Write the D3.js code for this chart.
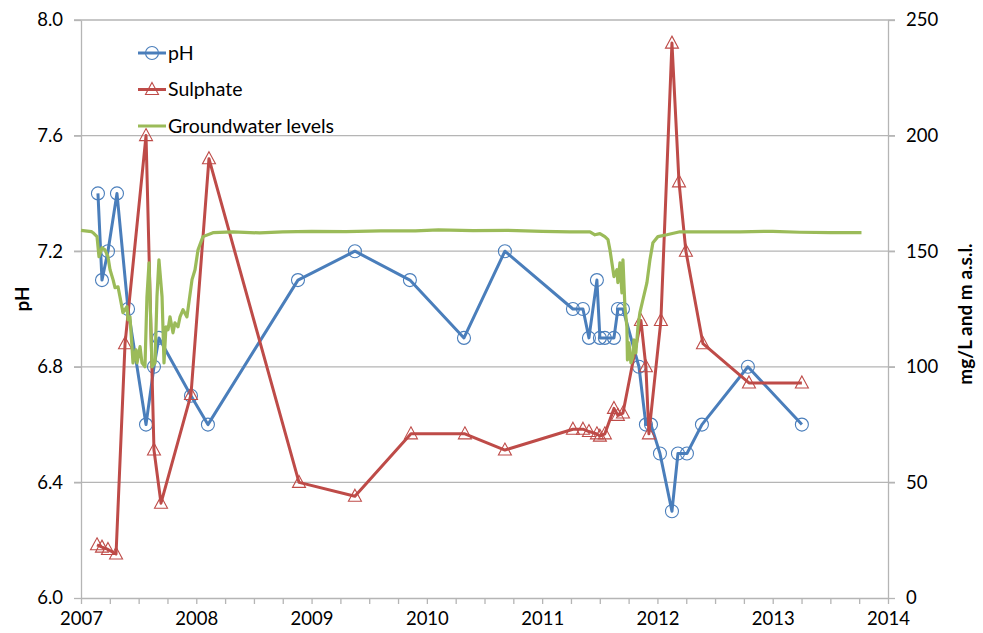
<!DOCTYPE html>
<html>
<head>
<meta charset="utf-8">
<script src="https://cdn.jsdelivr.net/npm/d3@7"></script>
<style>
  body { margin: 0; background: #fff; }
  svg text { font-family: Lato, "Open Sans", sans-serif; fill: #000; }
</style>
</head>
<body>
<div id="chart"></div>
<script>
// pH samples (decimal year, pH)
var phDates = [2007.147, 2007.182, 2007.234, 2007.312, 2007.408, 2007.564, 2007.633, 2007.676,
  2007.954, 2008.101, 2008.882, 2009.376, 2009.853, 2010.322, 2010.677, 2011.267, 2011.354,
  2011.406, 2011.475, 2011.501, 2011.544, 2011.623, 2011.657, 2011.701, 2011.840, 2011.900,
  2011.944, 2012.022, 2012.126, 2012.178, 2012.256, 2012.386, 2012.785, 2013.253];
var phValues = [7.4, 7.1, 7.2, 7.4, 7.0, 6.6, 6.8, 6.9, 6.7, 6.6, 7.1, 7.2, 7.1, 6.9, 7.2, 7.0, 7.0,
  6.9, 7.1, 6.9, 6.9, 6.9, 7.0, 7.0, 6.8, 6.6, 6.6, 6.5, 6.3, 6.5, 6.5, 6.6, 6.8, 6.6];

// sulphate samples (mg/L)
var so4Dates = [2007.139, 2007.182, 2007.234, 2007.304, 2007.382, 2007.564, 2007.633, 2007.694,
  2007.954, 2008.110, 2008.891, 2009.376, 2009.862, 2010.330, 2010.677, 2011.267, 2011.354,
  2011.406, 2011.475, 2011.501, 2011.544, 2011.623, 2011.657, 2011.701, 2011.857, 2011.900,
  2011.926, 2012.030, 2012.126, 2012.187, 2012.247, 2012.395, 2012.794, 2013.253];
var so4Values = [23, 22, 21, 19, 110, 200, 64, 41, 88, 190, 50, 44, 71, 71, 64, 73, 73, 72, 71, 70,
  71, 82, 79, 80, 120, 100, 71, 120, 240, 180, 150, 110, 93, 93];

// groundwater levels (m a.s.l.)
var gwDates = [2007.000, 2007.090, 2007.104, 2007.139, 2007.156, 2007.182, 2007.208, 2007.234,
  2007.252, 2007.278, 2007.295, 2007.321, 2007.338, 2007.364, 2007.399, 2007.408, 2007.425,
  2007.442, 2007.451, 2007.477, 2007.486, 2007.512, 2007.529, 2007.555, 2007.572, 2007.590,
  2007.616, 2007.642, 2007.659, 2007.676, 2007.703, 2007.720, 2007.737, 2007.755, 2007.772,
  2007.798, 2007.815, 2007.841, 2007.859, 2007.885, 2007.919, 2007.963, 2007.989, 2008.015,
  2008.058, 2008.145, 2008.318, 2008.550, 2008.750, 2009.000, 2009.300, 2009.600, 2009.900,
  2010.100, 2010.400, 2010.700, 2011.000, 2011.241, 2011.415, 2011.458, 2011.501, 2011.544,
  2011.571, 2011.588, 2011.605, 2011.623, 2011.649, 2011.657, 2011.675, 2011.692, 2011.701,
  2011.718, 2011.735, 2011.740, 2011.753, 2011.770, 2011.787, 2011.796, 2011.813, 2011.831,
  2011.848, 2011.874, 2011.909, 2011.935, 2011.961, 2012.004, 2012.082, 2012.195, 2012.429,
  2012.716, 2013.000, 2013.236, 2013.500, 2013.770];
var gwValues = [159.0, 158.5, 158.0, 156.3, 147.6, 151.5, 150.6, 147.6, 142.0, 137.7, 134.2, 134.6,
  130.3, 123.4, 126.0, 120.3, 121.6, 108.7, 101.7, 107.4, 101.7, 108.7, 101.7, 100.0, 130.3,
  145.0, 100.0, 101.7, 130.3, 146.3, 130.3, 101.7, 117.3, 116.0, 121.6, 114.7, 119.0, 117.3,
  121.6, 124.7, 121.6, 137.7, 142.0, 150.6, 156.3, 158.0, 158.4, 157.9, 158.4, 158.6, 158.5,
  158.8, 158.8, 159.2, 158.9, 159.0, 158.6, 158.4, 158.4, 157.1, 157.6, 156.3, 155.0, 150.6,
  145.0, 139.0, 142.0, 136.4, 145.0, 132.0, 146.3, 126.0, 117.3, 103.0, 110.4, 101.7, 104.3,
  111.7, 106.0, 117.3, 123.4, 129.0, 136.4, 146.3, 153.7, 156.3, 157.1, 158.4, 158.4, 158.4,
  158.6, 158.2, 158.0, 158.0];

var yearTicks = [2007, 2008, 2009, 2010, 2011, 2012, 2013, 2014];
var phTicks = [6.0, 6.4, 6.8, 7.2, 7.6, 8.0];
var rightTicks = [0, 50, 100, 150, 200, 250];
var seriesNames = ["pH", "Sulphate", "Groundwater levels"];

var blue = "#4a7ebb", red = "#be4b48", green = "#9bbb59", gridCol = "#b5b5b5";

var margin = { top: 20, right: 95, bottom: 35, left: 81 },
    width = 983 - margin.left - margin.right,
    height = 633 - margin.top - margin.bottom;

var svg = d3.select("#chart").append("svg")
    .attr("width", 983)
    .attr("height", 633);
var g = svg.append("g").attr("transform", "translate(" + margin.left + "," + margin.top + ")");

var x = d3.scaleLinear().domain([2007, 2014]).range([0, width]);
var yL = d3.scaleLinear().domain([6, 8]).range([height, 0]);
var yR = d3.scaleLinear().domain([0, 250]).range([height, 0]);

// gridlines
g.selectAll("line.grid").data(phTicks.slice(1)).enter().append("line")
    .attr("class", "grid")
    .attr("x1", -7).attr("x2", width + 7)
    .attr("y1", d => yL(d)).attr("y2", d => yL(d))
    .attr("stroke", gridCol).attr("stroke-width", 1.3);

function styleAxis(sel) {
  sel.select(".domain").attr("stroke", gridCol).attr("stroke-width", 1.3);
  sel.selectAll(".tick line").attr("stroke", gridCol).attr("stroke-width", 1.3);
  sel.selectAll("text").attr("font-size", 18.5).attr("fill", "#000");
}

var leftAxis = g.append("g")
    .call(d3.axisLeft(yL).tickValues(phTicks).tickFormat(d3.format(".1f")).tickSize(7).tickSizeOuter(0).tickPadding(11))
    .call(styleAxis);
var rightAxis = g.append("g").attr("transform", "translate(" + width + ",0)")
    .call(d3.axisRight(yR).tickValues(rightTicks).tickSize(7).tickSizeOuter(0).tickPadding(11))
    .call(styleAxis);

// quarter ticks, year labels
var quarterTicks = d3.range(2007, 2014.01, 0.25);
var bottomAxis = g.append("g").attr("transform", "translate(0," + height + ")")
    .call(d3.axisBottom(x).tickValues(quarterTicks).tickSize(6).tickSizeOuter(0)
      .tickFormat(d => yearTicks.indexOf(d) >= 0 ? d3.format("d")(d) : ""))
    .call(styleAxis);
bottomAxis.selectAll("text").attr("y", 14);

// axis titles
g.append("text")
    .attr("transform", "translate(" + (22 - margin.left) + "," + (height / 2 - 10) + ") rotate(-90)")
    .attr("text-anchor", "middle").attr("dy", "0.35em")
    .attr("font-size", 19).attr("font-weight", "bold")
    .text("pH");
g.append("text")
    .attr("transform", "translate(" + (width + 77) + "," + (height / 2 + 5) + ") rotate(-90)")
    .attr("text-anchor", "middle").attr("dy", "0.35em")
    .attr("font-size", 19).attr("font-weight", "bold")
    .text("mg/L and m a.s.l.");

var phData = phDates.map((d, i) => ({ t: d, v: phValues[i] }));
var so4Data = so4Dates.map((d, i) => ({ t: d, v: so4Values[i] }));
var gwData = gwDates.map((d, i) => ({ t: d, v: gwValues[i] }));

var triPath = "M0,-7L6.5,5L-6.5,5Z";

// pH
g.append("path").datum(phData)
    .attr("fill", "none").attr("stroke", blue).attr("stroke-width", 3).attr("stroke-linejoin", "round")
    .attr("d", d3.line().x(d => x(d.t)).y(d => yL(d.v)));
g.selectAll("circle.ph").data(phData).enter().append("circle")
    .attr("class", "ph")
    .attr("cx", d => x(d.t)).attr("cy", d => yL(d.v)).attr("r", 6.5)
    .attr("fill", "none").attr("stroke", blue).attr("stroke-width", 1.1);

// sulphate
g.append("path").datum(so4Data)
    .attr("fill", "none").attr("stroke", red).attr("stroke-width", 3).attr("stroke-linejoin", "round")
    .attr("d", d3.line().x(d => x(d.t)).y(d => yR(d.v)));
g.selectAll("path.so4").data(so4Data).enter().append("path")
    .attr("class", "so4")
    .attr("transform", d => "translate(" + x(d.t) + "," + yR(d.v) + ")")
    .attr("d", triPath)
    .attr("fill", "none").attr("stroke", red).attr("stroke-width", 1.1);

// groundwater
g.append("path").datum(gwData)
    .attr("fill", "none").attr("stroke", green).attr("stroke-width", 3.2).attr("stroke-linejoin", "round")
    .attr("d", d3.line().x(d => x(d.t)).y(d => yR(d.v)));

// legend
var legend = svg.append("g").attr("transform", "translate(138,53)");
var items = legend.selectAll("g").data(seriesNames).enter().append("g")
    .attr("transform", (d, i) => "translate(0," + (i * 36.5) + ")");
items.append("line").attr("x1", 0).attr("x2", 28)
    .attr("stroke", (d, i) => [blue, red, green][i]).attr("stroke-width", 3);
items.filter((d, i) => i === 0).append("circle")
    .attr("cx", 14).attr("r", 6.5).attr("fill", "none").attr("stroke", blue).attr("stroke-width", 1.1);
items.filter((d, i) => i === 1).append("path")
    .attr("transform", "translate(14,0)").attr("d", triPath)
    .attr("fill", "none").attr("stroke", red).attr("stroke-width", 1.1);
items.append("text").attr("x", 30).attr("dy", "0.35em").attr("font-size", 19.5).text(d => d);
</script>
</body>
</html>
